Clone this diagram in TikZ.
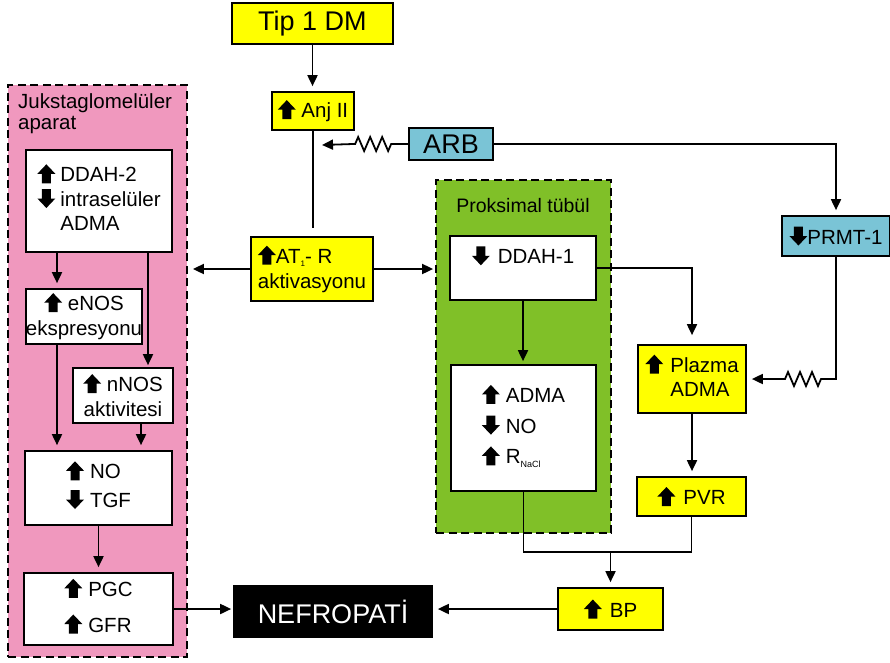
\documentclass[tikz,border=0pt]{standalone}
\usepackage{fontspec}
\setmainfont{Liberation Sans}
\usetikzlibrary{arrows.meta,positioning,decorations.pathmorphing}
\definecolor{dmyellow}{RGB}{255,255,0}
\definecolor{arbblue}{RGB}{122,196,214}
\definecolor{jgpink}{RGB}{240,152,190}
\definecolor{ptgreen}{RGB}{128,192,40}

% thick up / down arrows used inside the boxes
\newcommand{\upar}{\tikz[baseline=0pt,x=1pt,y=1pt]\fill (-4.5,-1.5) -- (-4.5,8) -- (-9,8) -- (0,17.5) -- (9,8) -- (4.5,8) -- (4.5,-1.5) -- cycle;}
\newcommand{\dnar}{\tikz[baseline=0pt,x=1pt,y=1pt]\fill (-4.5,17.5) -- (-4.5,8) -- (-9,8) -- (0,-1.5) -- (9,8) -- (4.5,8) -- (4.5,17.5) -- cycle;}

\begin{document}
\begin{tikzpicture}[x=1pt,y=-1pt,
    box/.style={rectangle, draw=black, line width=1.7pt, inner sep=2pt, font=\fontsize{20.5}{24}\selectfont},
    ybox/.style={box, fill=dmyellow},
    bbox/.style={box, fill=arbblue},
    wbox/.style={box, fill=white},
    region/.style={rectangle, draw=black, line width=1.8pt, dash pattern=on 8pt off 4.5pt},
    arrow/.style={-{Triangle[length=11pt,width=10pt]}, line width=1.8pt, shorten >=5pt},
    line/.style={line width=1.8pt},
    inhibit/.style={decoration={zigzag, segment length=12pt, amplitude=7pt}}
]
\useasboundingbox (0,0) rectangle (890,662);

% regions
\node[region, fill=jgpink, minimum width=179, minimum height=572] (jga) at (97.5,371) {};
\node[anchor=north west, align=left, inner sep=0pt, font=\fontsize{20.5}{21}\selectfont] (jgatitle) at (18,93) {Jukstaglomelüler\\aparat};
\node[region, fill=ptgreen, minimum width=175, minimum height=353] (pt) at (523.5,356.5) {};
\node[font=\fontsize{19.5}{22}\selectfont] (pttitle) at (523,206) {Proksimal tübül};

% top chain
\node[ybox, minimum width=161, minimum height=41, font=\fontsize{27}{30}\selectfont] (tip) at (312.5,23.5) {Tip 1 DM};
\node[ybox, minimum width=82, minimum height=38] (anj) at (313,111) {\upar\ Anj II};
\node[bbox, minimum width=84, minimum height=32, font=\fontsize{27}{30}\selectfont] (arb) at (451,144) {ARB};
\node[bbox, minimum width=108, minimum height=40] (prmt) at (836,236) {\dnar PRMT-1};
\node[ybox, minimum width=122, minimum height=64, align=left, font=\fontsize{20.5}{25}\selectfont] (at1) at (312,269) {\upar AT\raisebox{-3pt}{\fontsize{8}{8}\selectfont 1}- R\\aktivasyonu};

% right column
\node[ybox, minimum width=108, minimum height=68] (plazma) at (692,379) {\begin{tabular}{@{}c@{\hspace{7pt}}l@{}}\upar & Plazma\\ & ADMA\end{tabular}};
\node[ybox, minimum width=109, minimum height=39] (pvr) at (691.5,496.5) {\upar\hspace{8pt}PVR};
\node[ybox, minimum width=105, minimum height=42] (bp) at (610.5,609) {\upar\hspace{8pt}BP};
\node[box, fill=black, text=white, minimum width=198, minimum height=51, font=\fontsize{27}{30}\selectfont] (nef) at (333,611.5) {NEFROPATİ};

% jukstaglomeruler boxes
\node[wbox, minimum width=146, minimum height=102] (ddah2) at (99,201) {\begin{tabular}{@{}c@{\hspace{5pt}}l@{}}\upar & DDAH-2\\ \dnar & intraselüler\\ & ADMA\end{tabular}};
\node[wbox, inner xsep=0pt, minimum width=116, minimum height=55, align=center, font=\fontsize{20.5}{25}\selectfont] (enos) at (84,316.5) {\upar\ eNOS\\ekspresyonu};
\node[wbox, minimum width=100, minimum height=55, align=center, font=\fontsize{20.5}{25}\selectfont] (nnos) at (123,395.5) {\upar\ nNOS\\aktivitesi};
\node[wbox, minimum width=147, minimum height=74] (notgf) at (98.5,488) {\begin{tabular}{@{}c@{\hspace{6pt}}l@{}}\upar & NO\\[4pt] \dnar & TGF\end{tabular}};
\node[wbox, minimum width=149, minimum height=72] (pgc) at (98.5,609) {\begin{tabular}{@{}c@{\hspace{6pt}}l@{}}\upar & PGC\\[11pt] \upar & GFR\end{tabular}};

% proksimal tubul boxes
\node[wbox, minimum width=146, minimum height=64, text depth=26pt] (ddah1) at (523,268) {\dnar\hspace{8pt}DDAH-1};
\node[wbox, minimum width=145, minimum height=126] (adma) at (523.5,428) {\begin{tabular}{@{}c@{\hspace{6pt}}l@{}}\upar & ADMA\\[6pt] \dnar & NO\\[6pt] \upar & R\raisebox{-4pt}{\fontsize{9}{9}\selectfont NaCl}\end{tabular}};

% connectors
\coordinate (anjend) at (313,228);
\coordinate (arbtip) at (322,145);
\coordinate (bpjoin) at (bp.north |- 0,552);

\draw[arrow] (tip.south) -- (tip.south |- anj.north);
\draw[line] (anj.south) -- (anjend);
\draw[arrow, shorten >=0pt] (arb.west) -- ++(-17,0) decorate[inhibit]{-- ++(-38,0)} -- (arbtip);
\draw[arrow] (arb.east) -| (prmt.north);
\draw[arrow] (prmt.south) -- (prmt.south |- plazma.east) -- ++(-15,0) decorate[inhibit]{-- ++(-40,0)} -- (plazma.east);
\draw[arrow] (at1.west) -- (at1.west -| jga.east);
\draw[arrow, shorten >=2pt] (at1.east) -- (at1.east -| pt.west);

\draw[arrow] (57,0 |- ddah2.south) -- (57,0 |- enos.north);
\draw[arrow, shorten >=2pt] (148,0 |- ddah2.south) -- (148,0 |- nnos.north);
\draw[arrow] (57,0 |- enos.south) -- (57,0 |- notgf.north);
\draw[arrow] (141,0 |- nnos.south) -- (141,0 |- notgf.north);
\draw[arrow] (notgf.south) -- (pgc.north);
\draw[arrow, shorten >=2pt] (pgc.east) -- (pgc.east -| nef.west);

\draw[arrow, shorten >=3pt] (ddah1.south) -- (ddah1.south |- adma.north);
\draw[arrow, shorten >=9pt] (ddah1.east) -| (plazma.north);
\draw[arrow] (plazma.south) -- (plazma.south |- pvr.north);
\draw[line] (pvr.south) -- (pvr.south |- bpjoin) -- (adma.south |- bpjoin) -- (adma.south);
\draw[arrow] (bpjoin) -- (bp.north);
\draw[arrow] (bp.west) -- (bp.west -| nef.east);

\end{tikzpicture}
\end{document}
